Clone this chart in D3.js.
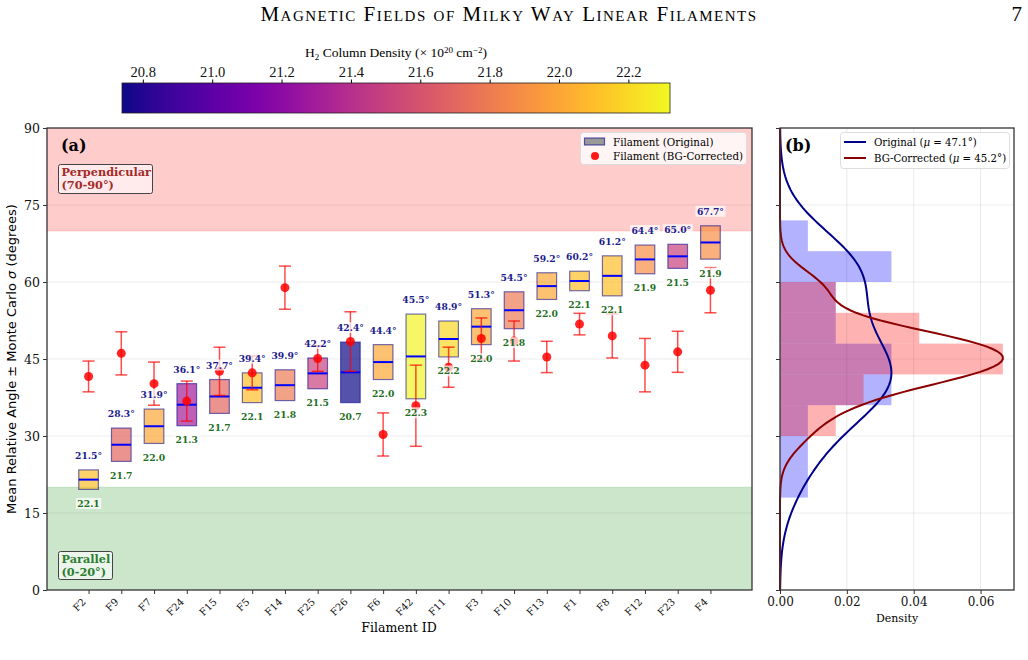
<!DOCTYPE html>
<html>
<head>
<meta charset="utf-8">
<script src="https://cdn.jsdelivr.net/npm/d3@7"></script>
<style>
  body { margin: 0; background: #fff; }
  svg { display: block; }
  text { font-family: "DejaVu Serif", serif; }
</style>
</head>
<body>
<div id="chart"></div>
<script>
// ---- data ----
const filaments = ['F2', 'F9', 'F7', 'F24', 'F15', 'F5', 'F14', 'F25', 'F26', 'F6',
                   'F42', 'F11', 'F3', 'F10', 'F13', 'F1', 'F8', 'F12', 'F23', 'F4'];
const meanAngle = [21.5, 28.3, 31.9, 36.1, 37.7, 39.4, 39.9, 42.2, 42.4, 44.4,
                   45.5, 48.9, 51.3, 54.5, 59.2, 60.2, 61.2, 64.4, 65.0, 67.7];
const mcSigma = [1.9, 3.25, 3.35, 4.1, 3.3, 2.9, 3.0, 3.0, 5.9, 3.4,
                 8.25, 3.5, 3.5, 3.6, 2.6, 1.9, 3.9, 2.8, 2.35, 3.25];
const columnDensity = [22.1, 21.7, 22.0, 21.3, 21.7, 22.1, 21.8, 21.5, 20.7, 22.0,
                       22.3, 22.2, 22.0, 21.8, 22.0, 22.1, 22.1, 21.9, 21.5, 21.9];
const bgAngle = [41.6, 46.1, 40.2, 36.8, 42.6, 42.3, 58.9, 45.1, 48.4, 30.3,
                 35.9, 43.4, 49.0, 48.5, 45.4, 51.8, 49.5, 43.8, 46.4, 58.4];
const bgSigma = [3.0, 4.2, 4.2, 3.9, 4.7, 3.3, 4.2, 2.5, 5.8, 4.2,
                 7.9, 3.9, 4.0, 3.9, 3.05, 2.1, 4.3, 5.2, 4.0, 4.4];

const angleTicks = [0, 15, 30, 45, 60, 75, 90];
const densityTicks = [0, 0.02, 0.04, 0.06];
const cbarTicks = [20.8, 21.0, 21.2, 21.4, 21.6, 21.8, 22.0, 22.2];
const cbarRange = [20.74, 22.32];
const histEdges = d3.range(0, 91, 6);

const W = 1028, H = 660;
const pa = { left: 47, right: 752, top: 128, bottom: 590 };   // panel (a)
const pb = { left: 780, right: 1014, top: 128, bottom: 590 }; // panel (b)
const cb = { left: 122, right: 670, top: 83, bottom: 113 };   // colorbar

const svg = d3.select('#chart').append('svg')
    .attr('width', W)
    .attr('height', H);

// ---- scales ----
const xScale = d3.scaleLinear().domain([-1.27, filaments.length - 1 + 1.27]).range([pa.left, pa.right]);
const yScale = d3.scaleLinear().domain([0, 90]).range([pa.bottom, pa.top]);
const dScale = d3.scaleLinear().domain([0, 0.07]).range([pb.left, pb.right]);
const cScale = d3.scaleLinear().domain(cbarRange).range([cb.left, cb.right]);
const colorOf = v => d3.interpolatePlasma(Math.max(0, Math.min(1, (v - cbarRange[0]) / (cbarRange[1] - cbarRange[0]))));

// ---- page header ----
svg.append('text')
    .attr('x', 509).attr('y', 21)
    .attr('text-anchor', 'middle')
    .style('font-family', '"Liberation Serif", serif')
    .style('font-variant', 'small-caps')
    .style('font-size', '21px')
    .style('letter-spacing', '1.5px')
    .text('Magnetic Fields of Milky Way Linear Filaments');
svg.append('text')
    .attr('x', 1022).attr('y', 21)
    .attr('text-anchor', 'end')
    .style('font-family', '"Liberation Serif", serif')
    .style('font-size', '21px')
    .text('7');

// ---- colorbar ----
const grad = svg.append('defs').append('linearGradient')
    .attr('id', 'plasma')
    .attr('x1', '0%').attr('x2', '100%');
d3.range(0, 1.0001, 0.05).forEach(t => {
    grad.append('stop').attr('offset', (t * 100) + '%').attr('stop-color', d3.interpolatePlasma(t));
});
svg.append('rect')
    .attr('x', cb.left).attr('y', cb.top)
    .attr('width', cb.right - cb.left).attr('height', cb.bottom - cb.top)
    .attr('fill', 'url(#plasma)')
    .attr('stroke', '#222').attr('stroke-width', 0.8);

const cbAxis = svg.append('g')
    .attr('transform', 'translate(0,' + cb.top + ')')
    .call(d3.axisTop(cScale).tickValues(cbarTicks).tickFormat(d3.format('.1f')).tickSize(3.5).tickPadding(3));
cbAxis.select('.domain').remove();
cbAxis.selectAll('text')
    .style('font-family', '"Liberation Serif", serif')
    .style('font-size', '14.5px')
    .attr('fill', '#111');

const cbTitle = svg.append('text')
    .attr('x', (cb.left + cb.right) / 2).attr('y', 57)
    .attr('text-anchor', 'middle')
    .style('font-family', '"Liberation Serif", serif')
    .style('font-size', '13.5px');
cbTitle.append('tspan').text('H');
cbTitle.append('tspan').attr('dy', 3).style('font-size', '9px').text('2');
cbTitle.append('tspan').attr('dy', -3).text(' Column Density (\u00d7 10');
cbTitle.append('tspan').attr('dy', -4).style('font-size', '9px').text('20');
cbTitle.append('tspan').attr('dy', 4).text(' cm');
cbTitle.append('tspan').attr('dy', -4).style('font-size', '9px').text('\u22122');
cbTitle.append('tspan').attr('dy', 4).text(')');

// ---- panel (a) ----
const ga = svg.append('g');

// perpendicular / parallel regions
ga.append('rect')
    .attr('x', pa.left).attr('width', pa.right - pa.left)
    .attr('y', yScale(90)).attr('height', yScale(70) - yScale(90))
    .attr('fill', 'rgba(255,0,0,0.2)');
ga.append('line')
    .attr('x1', pa.left).attr('x2', pa.right)
    .attr('y1', yScale(70)).attr('y2', yScale(70))
    .attr('stroke', 'rgba(255,0,0,0.15)').attr('stroke-width', 1.5);
ga.append('rect')
    .attr('x', pa.left).attr('width', pa.right - pa.left)
    .attr('y', yScale(20)).attr('height', yScale(0) - yScale(20))
    .attr('fill', 'rgba(0,128,0,0.2)');
ga.append('line')
    .attr('x1', pa.left).attr('x2', pa.right)
    .attr('y1', yScale(20)).attr('y2', yScale(20))
    .attr('stroke', 'rgba(0,128,0,0.12)').attr('stroke-width', 1.5);

// horizontal grid
ga.selectAll('.grid')
    .data(angleTicks.slice(1, -1))
    .join('line')
    .attr('x1', pa.left).attr('x2', pa.right)
    .attr('y1', d => yScale(d)).attr('y2', d => yScale(d))
    .attr('stroke', 'rgba(0,0,0,0.07)').attr('stroke-width', 1.2);

const boxW = 0.6;

// boxes: mean +- MC sigma, coloured by column density
ga.selectAll('.box')
    .data(filaments)
    .join('rect')
    .attr('x', (d, i) => xScale(i - boxW / 2))
    .attr('width', xScale(boxW) - xScale(0))
    .attr('y', (d, i) => yScale(meanAngle[i] + mcSigma[i]))
    .attr('height', (d, i) => yScale(meanAngle[i] - mcSigma[i]) - yScale(meanAngle[i] + mcSigma[i]))
    .attr('fill', (d, i) => colorOf(columnDensity[i]))
    .attr('fill-opacity', 0.7)
    .attr('stroke', 'rgba(0,0,139,0.55)')
    .attr('stroke-width', 1.2);

// mean lines
ga.selectAll('.meanline')
    .data(filaments)
    .join('line')
    .attr('x1', (d, i) => xScale(i - boxW / 2))
    .attr('x2', (d, i) => xScale(i + boxW / 2))
    .attr('y1', (d, i) => yScale(meanAngle[i]))
    .attr('y2', (d, i) => yScale(meanAngle[i]))
    .attr('stroke', '#0000ff').attr('stroke-width', 2);

// background-corrected points with error bars
const capW = 6;
const eb = ga.selectAll('.eb')
    .data(filaments)
    .join('g')
    .attr('stroke', 'rgba(255,0,0,0.7)')
    .attr('stroke-width', 1.5);
eb.append('line')
    .attr('x1', (d, i) => xScale(i)).attr('x2', (d, i) => xScale(i))
    .attr('y1', (d, i) => yScale(bgAngle[i] + bgSigma[i]))
    .attr('y2', (d, i) => yScale(bgAngle[i] - bgSigma[i]));
eb.append('line')
    .attr('x1', (d, i) => xScale(i) - capW).attr('x2', (d, i) => xScale(i) + capW)
    .attr('y1', (d, i) => yScale(bgAngle[i] + bgSigma[i]))
    .attr('y2', (d, i) => yScale(bgAngle[i] + bgSigma[i]));
eb.append('line')
    .attr('x1', (d, i) => xScale(i) - capW).attr('x2', (d, i) => xScale(i) + capW)
    .attr('y1', (d, i) => yScale(bgAngle[i] - bgSigma[i]))
    .attr('y2', (d, i) => yScale(bgAngle[i] - bgSigma[i]));
eb.append('circle')
    .attr('cx', (d, i) => xScale(i))
    .attr('cy', (d, i) => yScale(bgAngle[i]))
    .attr('r', 4.5)
    .attr('stroke', 'none')
    .attr('fill', 'rgba(255,0,0,0.85)');

// text labels with a faint white box behind them
function boxedLabel(g, x, y, str, color) {
    const t = g.append('text')
        .attr('x', x).attr('y', y)
        .attr('text-anchor', 'middle')
        .attr('dominant-baseline', 'central')
        .style('font-size', '9.2px')
        .style('font-weight', 'bold')
        .attr('fill', color)
        .text(str);
    const bb = t.node().getBBox();
    g.insert('rect', () => t.node())
        .attr('x', bb.x - 1.5).attr('y', bb.y)
        .attr('width', bb.width + 3).attr('height', bb.height)
        .attr('fill', 'rgba(255,255,255,0.7)');
}
filaments.forEach((f, i) => {
    boxedLabel(ga, xScale(i), yScale(meanAngle[i] + mcSigma[i]) - 14.5, meanAngle[i].toFixed(1) + '\u00b0', '#1c1c8f');
    boxedLabel(ga, xScale(i), yScale(meanAngle[i] - mcSigma[i]) + 14, columnDensity[i].toFixed(1), '#1f6f1f');
});

// region notes
function noteBox(x, y, w, h, lines, color) {
    ga.append('rect')
        .attr('x', x).attr('y', y).attr('width', w).attr('height', h)
        .attr('rx', 2)
        .attr('fill', 'rgba(255,255,255,0.6)')
        .attr('stroke', '#444').attr('stroke-width', 1);
    lines.forEach((s, k) => {
        ga.append('text')
            .attr('x', x + 3).attr('y', y + 11 + k * 13)
            .style('font-size', '11.3px').style('font-weight', 'bold')
            .attr('fill', color)
            .text(s);
    });
}
noteBox(58.5, 164.5, 94, 29, ['Perpendicular', '(70-90\u00b0)'], '#a52a2a');
noteBox(58.5, 551.5, 54, 28, ['Parallel', '(0-20\u00b0)'], '#2e7d32');

ga.append('text')
    .attr('x', 61).attr('y', 151)
    .style('font-size', '16px').style('font-weight', 'bold')
    .text('(a)');

// axes (a)
const yAxisA = ga.append('g')
    .attr('transform', 'translate(' + pa.left + ',0)')
    .call(d3.axisLeft(yScale).tickValues(angleTicks).tickSize(4).tickPadding(3));
yAxisA.selectAll('text').style('font-size', '12.5px').attr('fill', '#111');
yAxisA.select('.domain').remove();

const xAxisA = ga.append('g')
    .attr('transform', 'translate(0,' + pa.bottom + ')')
    .call(d3.axisBottom(xScale).tickValues(d3.range(filaments.length)).tickFormat(i => filaments[i]).tickSize(4));
xAxisA.select('.domain').remove();
xAxisA.selectAll('text')
    .style('font-size', '10px')
    .attr('fill', '#111')
    .attr('text-anchor', 'end')
    .attr('dominant-baseline', 'central')
    .attr('x', 0).attr('y', 0).attr('dy', null)
    .attr('transform', 'translate(-5,10) rotate(-45)');
xAxisA.selectAll('line').attr('stroke', '#333');
yAxisA.selectAll('line').attr('stroke', '#333');

ga.append('rect')
    .attr('x', pa.left).attr('y', pa.top)
    .attr('width', pa.right - pa.left).attr('height', pa.bottom - pa.top)
    .attr('fill', 'none')
    .attr('stroke', '#333').attr('stroke-width', 1.3);

ga.append('text')
    .attr('transform', 'translate(16,' + ((pa.top + pa.bottom) / 2) + ') rotate(-90)')
    .attr('text-anchor', 'middle')
    .style('font-family', '"DejaVu Sans", sans-serif')
    .style('font-size', '13px')
    .html('Mean Relative Angle \u00b1 Monte Carlo <tspan font-style="italic">\u03c3</tspan> (degrees)');

ga.append('text')
    .attr('x', 399).attr('y', 632)
    .attr('text-anchor', 'middle')
    .style('font-size', '12.5px')
    .text('Filament ID');

// legend (a)
const la = ga.append('g');
la.append('rect')
    .attr('x', 580.5).attr('y', 132.5).attr('width', 166).attr('height', 32)
    .attr('rx', 3)
    .attr('fill', 'rgba(255,255,255,0.8)')
    .attr('stroke', '#ddd');
la.append('rect')
    .attr('x', 584.5).attr('y', 138).attr('width', 20).attr('height', 7)
    .attr('fill', '#999').attr('stroke', 'rgba(0,0,139,0.6)').attr('stroke-width', 1.2);
la.append('circle')
    .attr('cx', 595).attr('cy', 156).attr('r', 4)
    .attr('fill', 'rgba(255,0,0,0.9)');
la.append('text').attr('x', 613).attr('y', 141.5).attr('dominant-baseline', 'central')
    .style('font-size', '10.3px').text('Filament (Original)');
la.append('text').attr('x', 613).attr('y', 156).attr('dominant-baseline', 'central')
    .style('font-size', '10.3px').text('Filament (BG-Corrected)');

// ---- panel (b) ----
const gb = svg.append('g');

// grid
gb.selectAll('.hgrid')
    .data(angleTicks.slice(1, -1))
    .join('line')
    .attr('x1', pb.left).attr('x2', pb.right)
    .attr('y1', d => yScale(d)).attr('y2', d => yScale(d))
    .attr('stroke', 'rgba(0,0,0,0.07)').attr('stroke-width', 1.2);
gb.selectAll('.vgrid')
    .data(densityTicks.slice(1))
    .join('line')
    .attr('x1', d => dScale(d)).attr('x2', d => dScale(d))
    .attr('y1', pb.top).attr('y2', pb.bottom)
    .attr('stroke', 'rgba(0,0,0,0.09)').attr('stroke-width', 1);

// density histograms
const binner = d3.bin().domain([0, 90]).thresholds(histEdges.slice(1, -1));
function histDensity(values) {
    return binner(values).map(b => ({ x0: b.x0, x1: b.x1, d: b.length / (values.length * (b.x1 - b.x0)) }));
}
function drawHist(bins, fill) {
    gb.selectAll(null)
        .data(bins.filter(b => b.d > 0))
        .join('rect')
        .attr('x', pb.left)
        .attr('y', b => yScale(b.x1))
        .attr('height', b => yScale(b.x0) - yScale(b.x1))
        .attr('width', b => dScale(b.d) - pb.left)
        .attr('fill', fill);
}
const histOrig = histDensity(meanAngle);
const histBG = histDensity(bgAngle);
drawHist(histOrig, 'rgba(0,0,255,0.3)');
drawHist(histBG, 'rgba(255,0,0,0.3)');

// gaussian KDE (Scott's rule), scaled so its peak matches the histogram peak
function kde(values, peak) {
    const n = values.length;
    const h = d3.deviation(values) * Math.pow(n, -0.2);
    const pts = d3.range(0, 90.001, 0.5).map(y => {
        let s = 0;
        values.forEach(v => { const z = (y - v) / h; s += Math.exp(-0.5 * z * z); });
        return [y, s / (n * h * Math.sqrt(2 * Math.PI))];
    });
    const k = peak / d3.max(pts, p => p[1]);
    return pts.map(p => [p[0], p[1] * k]);
}
const kdeLine = d3.line().x(d => dScale(d[1])).y(d => yScale(d[0]));
gb.append('path').datum(kde(meanAngle, d3.max(histOrig, b => b.d)))
    .attr('d', kdeLine).attr('fill', 'none')
    .attr('stroke', '#00008b').attr('stroke-width', 2);
gb.append('path').datum(kde(bgAngle, d3.max(histBG, b => b.d)))
    .attr('d', kdeLine).attr('fill', 'none')
    .attr('stroke', '#8b0000').attr('stroke-width', 2);

// axes (b)
const yAxisB = gb.append('g')
    .attr('transform', 'translate(' + pb.left + ',0)')
    .call(d3.axisLeft(yScale).tickValues(angleTicks).tickSize(4).tickFormat(''));
yAxisB.select('.domain').remove();
yAxisB.selectAll('line').attr('stroke', '#333');

const xAxisB = gb.append('g')
    .attr('transform', 'translate(0,' + pb.bottom + ')')
    .call(d3.axisBottom(dScale).tickValues(densityTicks).tickFormat(d3.format('.2f')).tickSize(4).tickPadding(3));
xAxisB.select('.domain').remove();
xAxisB.selectAll('text').style('font-size', '12px').attr('fill', '#111');
xAxisB.selectAll('line').attr('stroke', '#333');

gb.append('rect')
    .attr('x', pb.left).attr('y', pb.top)
    .attr('width', pb.right - pb.left).attr('height', pb.bottom - pb.top)
    .attr('fill', 'none')
    .attr('stroke', '#333').attr('stroke-width', 1.3);

gb.append('text')
    .attr('x', (pb.left + pb.right) / 2).attr('y', 622)
    .attr('text-anchor', 'middle')
    .style('font-size', '11px')
    .text('Density');

gb.append('text')
    .attr('x', 785).attr('y', 151)
    .style('font-size', '16px').style('font-weight', 'bold')
    .text('(b)');

// legend (b)
const lb = gb.append('g');
lb.append('rect')
    .attr('x', 840.5).attr('y', 132.5).attr('width', 169).attr('height', 36)
    .attr('rx', 3)
    .attr('fill', 'rgba(255,255,255,0.8)')
    .attr('stroke', '#ddd');
const legB = [
    { name: 'Original', vals: meanAngle, color: '#00008b' },
    { name: 'BG-Corrected', vals: bgAngle, color: '#8b0000' }
];
legB.forEach((d, k) => {
    const y = 142 + k * 16;
    lb.append('line')
        .attr('x1', 844).attr('x2', 866).attr('y1', y).attr('y2', y)
        .attr('stroke', d.color).attr('stroke-width', 2);
    lb.append('text')
        .attr('x', 874).attr('y', y).attr('dominant-baseline', 'central')
        .style('font-size', '10.2px')
        .html(d.name + ' (<tspan font-style="italic">\u03bc</tspan> = ' + d3.mean(d.vals).toFixed(1) + '\u00b0)');
});
</script>
</body>
</html>
